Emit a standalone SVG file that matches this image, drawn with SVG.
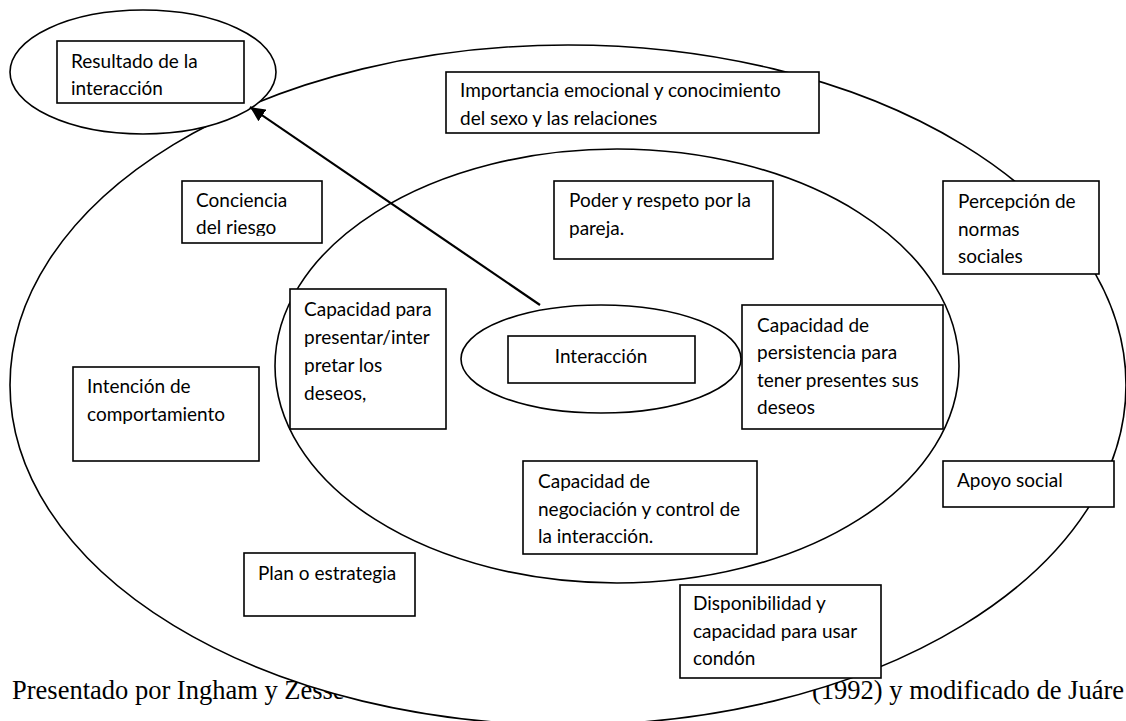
<svg xmlns="http://www.w3.org/2000/svg" width="1126" height="721" viewBox="0 0 1126 721">
<style>
.shape{fill:#fff;stroke:#000;stroke-width:1.6}
.box{fill:#fff;stroke:#000;stroke-width:1.6}
.t{font-family:Lato,"Open Sans",sans-serif;font-size:19px;fill:#000}
.foot{font-family:"Liberation Serif","Times New Roman",serif;font-size:26.5px;fill:#000}
.conn{stroke:#000;stroke-width:2.2;fill:none}
</style>
<defs>
<marker id="arrow" markerUnits="userSpaceOnUse" markerWidth="16" markerHeight="14" refX="15" refY="7" orient="auto">
<path d="M0,0 L15,7 L0,14 z" fill="#000"/>
</marker>
<clipPath id="clipImp"><rect x="446" y="72" width="373" height="55"/></clipPath>
<clipPath id="clipCon"><rect x="182" y="181" width="140" height="55"/></clipPath>
</defs>
<rect width="1126" height="721" fill="#fff"/>
<text class="foot" x="12" y="699">Presentado por Ingham y Zesse</text>
<text class="foot" x="1124" y="699" text-anchor="end">(1992) y modificado de Juáre</text>
<g id="outer-ellipse"><ellipse class="shape" cx="568" cy="385" rx="558" ry="340"/></g>
<g id="inner-ellipse"><ellipse class="shape" cx="617" cy="366" rx="342" ry="217"/></g>
<g id="resultado">
<ellipse class="shape" cx="143" cy="72" rx="133" ry="62"/>
<rect class="box" x="57" y="41" width="187" height="62"/>
<text class="t" x="71" y="68">Resultado de la</text>
<text class="t" x="71" y="95">interacción</text>
</g>
<g id="interaccion">
<ellipse class="shape" cx="601" cy="359" rx="140" ry="54"/>
<rect class="box" x="508" y="336" width="187" height="47"/>
<text class="t" x="601" y="363" text-anchor="middle">Interacción</text>
</g>
<g id="importancia">
<rect class="box" x="446" y="72" width="373" height="61"/>
<g clip-path="url(#clipImp)">
<text class="t" x="460" y="97">Importancia emocional y conocimiento</text>
<text class="t" x="460" y="125">del sexo y las relaciones</text>
</g>
</g>
<g id="conciencia">
<rect class="box" x="182" y="181" width="140" height="62"/>
<g clip-path="url(#clipCon)">
<text class="t" x="196" y="207">Conciencia</text>
<text class="t" x="196" y="234">del riesgo</text>
</g>
</g>
<g id="poder">
<rect class="box" x="554" y="181" width="219" height="78"/>
<text class="t" x="569" y="207">Poder y respeto por la</text>
<text class="t" x="569" y="235">pareja.</text>
</g>
<g id="percepcion">
<rect class="box" x="943" y="181" width="156" height="93"/>
<text class="t" x="958" y="208">Percepción de</text>
<text class="t" x="958" y="236">normas</text>
<text class="t" x="958" y="263">sociales</text>
</g>
<g id="presentar">
<rect class="box" x="290" y="289" width="156" height="140"/>
<text class="t" x="304" y="316">Capacidad para</text>
<text class="t" x="304" y="344">presentar/inter</text>
<text class="t" x="304" y="372">pretar los</text>
<text class="t" x="304" y="400">deseos,</text>
</g>
<g id="persistencia">
<rect class="box" x="742" y="305" width="201" height="124"/>
<text class="t" x="757" y="332">Capacidad de</text>
<text class="t" x="757" y="359">persistencia para</text>
<text class="t" x="757" y="387">tener presentes sus</text>
<text class="t" x="757" y="414">deseos</text>
</g>
<g id="intencion">
<rect class="box" x="73" y="367" width="186" height="94"/>
<text class="t" x="87" y="393">Intención de</text>
<text class="t" x="87" y="421">comportamiento</text>
</g>
<g id="negociacion">
<rect class="box" x="523" y="461" width="234" height="93"/>
<text class="t" x="538" y="488">Capacidad de</text>
<text class="t" x="538" y="516">negociación y control de</text>
<text class="t" x="538" y="543">la interacción.</text>
</g>
<g id="apoyo">
<rect class="box" x="943" y="461" width="171" height="46"/>
<text class="t" x="957" y="487">Apoyo social</text>
</g>
<g id="plan">
<rect class="box" x="244" y="553" width="171" height="63"/>
<text class="t" x="258" y="580">Plan o estrategia</text>
</g>
<g id="disponibilidad">
<rect class="box" x="680" y="585" width="201" height="93"/>
<text class="t" x="693" y="610">Disponibilidad y</text>
<text class="t" x="693" y="638">capacidad para usar</text>
<text class="t" x="693" y="665">condón</text>
</g>
<g id="connectors">
<line class="conn" x1="540" y1="305" x2="250" y2="107" marker-end="url(#arrow)"/>
</g>
</svg>
